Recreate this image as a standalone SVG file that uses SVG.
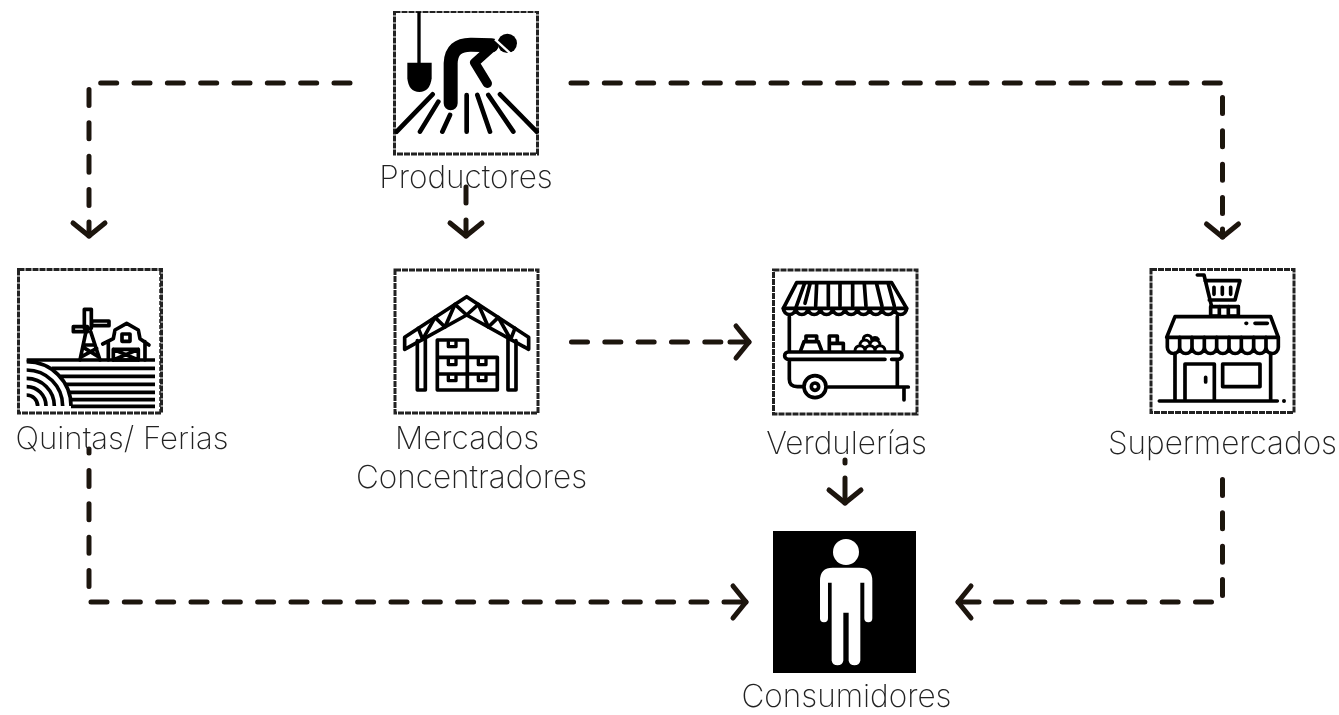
<svg xmlns="http://www.w3.org/2000/svg" width="1339" height="715" viewBox="0 0 1339 715">
<style>
text{font-family:"Inter","Liberation Sans",sans-serif;font-weight:200;font-size:31.500px;fill:#222;text-anchor:middle}
.box{fill:#fff;stroke:#222;stroke-width:3;stroke-dasharray:6 1}
.ic{fill:none;stroke:#000;stroke-width:11;stroke-linecap:round;stroke-linejoin:round}
.f{fill:#000;stroke:none}
.w{fill:#fff;stroke:none}
.conn path{fill:none;stroke:#1e1210;stroke-width:5;stroke-linecap:round;stroke-linejoin:round}
.conn .dash{stroke-dasharray:16 17.330}
.conn .head{marker-end:url(#chev)}
</style>
<defs>
<filter id="soft" x="0" y="0" width="100%" height="100%"><feGaussianBlur stdDeviation="0.6"/></filter>
<marker id="chev" markerUnits="userSpaceOnUse" markerWidth="40" markerHeight="50" refX="20" refY="25" viewBox="0 0 40 50" orient="auto">
<path d="M7 9L20 25L7 41" fill="none" stroke="#1e1210" stroke-width="5" stroke-linecap="round" stroke-linejoin="round"/>
</marker>
</defs>
<rect width="1339" height="715" fill="#fff"/>
<g filter="url(#soft)">
<g id="connectors" class="conn">
<path class="dash" d="M350 83H100M89 89.500V206"/>
<path class="head" d="M89 222V236"/>
<path d="M466 187V203"/>
<path class="head" d="M466 220V236"/>
<path class="dash" d="M571 83H1221M1222.500 97.500V214"/>
<path class="head" d="M1222.500 229V237"/>
<path class="dash" d="M571.500 342H721"/>
<path class="head" d="M730 342H749"/>
<path d="M89 449V453"/>
<path class="dash" d="M89 470.500V590M91 602H708"/>
<path class="head" d="M724 602H746"/>
<path d="M845 460V463"/>
<path class="head" d="M845 478V503"/>
<path class="dash" d="M1222.500 479.500V598M1211.500 602H995"/>
<path class="head" d="M979 602H958"/>
</g>
<g id="productores">
<rect class="box" x="394.500" y="11.500" width="143" height="142.500"/>
<g transform="translate(380 0) scale(.3333)">
<path class="ic" style="stroke-width:10;stroke-linecap:butt" d="M117 36V190"/>
<path class="f" d="M82 188H155V235Q150 276 118 276Q86 276 82 235Z"/>
<path class="ic" style="stroke-width:42" d="M212 310V190Q214 132 275 134L335 136"/>
<path class="ic" style="stroke-width:28" d="M340 138L284 188L322 250"/>
<circle class="f" cx="382" cy="130" r="29"/>
<path d="M345 118L404 172" stroke="#fff" stroke-width="7" fill="none"/>
<path class="ic" style="stroke-width:14" d="M50 395L158 283M120 395L175 305M187 395L210 345M260 395V285M330 395L292 285M400 395L325 285M470 395L360 283"/>
</g>
<text x="466" y="188">Productores</text>
</g>
<g id="quintas">
<rect class="box" x="18.500" y="269.500" width="143" height="143.500"/>
<path d="M160 271V412" stroke="#222" stroke-width="1.500" stroke-dasharray="4 2"/>
<g transform="translate(0 260) scale(.3333)">
<path class="ic" style="stroke-linecap:butt" d="M80 300H465M155 325H465M181 349H465M198 373H465M207 397H465M211 419H465M213 439H465"/>
<path class="ic" style="stroke-linecap:butt" d="M80 305A133 133 0 0 1 213 438M80 330A108 108 0 0 1 188 438M80 355A83 83 0 0 1 163 438M80 380A58 58 0 0 1 138 438M80 405A33 33 0 0 1 113 438"/>
<path class="ic" d="M253 148H274V205H253ZM220 200H262V215H220ZM275 183H327V197H275Z"/>
<path class="ic" d="M258 215L240 300M272 215L300 300M252 255L285 255M245 290L290 265M295 290L255 265"/>
<path class="ic" d="M308 252L340 236L345 210L380 190L415 210L420 236L447 255M325 245V300M435 245V300M340 268H415V300H340ZM340 268L415 300M415 268L340 300"/>
<rect class="ic" x="366" y="222" width="24" height="22"/>
</g>
<text x="122" y="449" style="font-size:31.200px">Quintas/ Ferias</text>
</g>
<g id="mercados">
<rect class="box" x="395" y="270" width="143" height="143"/>
<g transform="translate(380 260) scale(.3333)">
<path class="ic" d="M74 232L260 110L446 232V268L260 165L74 268Z"/>
<path class="ic" d="M115 205L128 238L165 172L195 201L225 133L260 165L295 133L325 201L355 172L392 238L405 205"/>
<path class="ic" d="M112 242V390H136V228M384 228V390H408V242M172 240H262V390H172ZM172 292H352V390H262M172 342H352"/>
<path class="ic" style="stroke-width:10" d="M205 246V260H228V246M205 298V314H228V298M295 298V314H318V298M205 348V362H228V348M295 348V362H318V348"/>
</g>
<text x="467" y="449">Mercados</text>
<text x="471.500" y="488">Concentradores</text>
</g>
<g id="verdulerias">
<rect class="box" x="773.500" y="270" width="143.500" height="144"/>
<g transform="translate(760 260) scale(.3333)">
<path class="ic" d="M70 145L110 68H395L440 145"/>
<path class="ic" d="M70 145A18 18 0 0 0 107 145A18 18 0 0 0 144 145A18 18 0 0 0 181 145A18 18 0 0 0 218 145A18 18 0 0 0 255 145A18 18 0 0 0 292 145A18 18 0 0 0 329 145A18 18 0 0 0 366 145A18 18 0 0 0 403 145A18 18 0 0 0 440 145Z"/>
<path class="ic" d="M133 72L107 145M135 130L150 72M170 72L167 138M205 72V138M240 72V138M278 72V138M313 72L318 138M350 72L366 138M385 72L403 138"/>
<path class="ic" d="M88 170V275M412 170V275M85 276H415A9 9 0 0 1 415 298H395M375 298H85A9 9 0 0 1 85 276M88 298V358Q88 380 112 380H128M205 381H445M412 298V381M432 381V420"/>
<circle class="ic" cx="165" cy="380" r="33"/>
<circle class="ic" cx="165" cy="380" r="11"/>
<path class="ic" d="M122 272L132 245H175L185 272M138 245V228H170V245M208 272V228H232V250H250V272M208 250H232"/>
<path class="ic" style="stroke-width:9" d="M285 272A15 15 0 0 1 315 272A15 15 0 0 1 345 272A15 15 0 0 1 375 272M300 255A15 15 0 0 1 330 255A15 15 0 0 1 360 255M310 238A12 12 0 0 1 335 238A12 12 0 0 1 355 238"/>
</g>
<text x="846.500" y="454">Verdulerías</text>
</g>
<g id="supermercados">
<rect class="box" x="1151" y="269.500" width="143" height="143"/>
<g transform="translate(1140 260) scale(.3333)">
<path class="ic" d="M172 45H192L215 140H295M195 62H300L285 120H208"/>
<path class="ic" d="M222 82V103M247 82V103M272 82V103M212 140V168H238V140M265 140V168H295V140"/>
<path class="ic" d="M105 170H392L415 232H80Z"/>
<path class="ic" d="M82 232V262A18 18 0 0 0 119 262A18 18 0 0 0 156 262A18 18 0 0 0 193 262A18 18 0 0 0 230 262A18 18 0 0 0 267 262A18 18 0 0 0 304 262A18 18 0 0 0 341 262A18 18 0 0 0 378 262A18 18 0 0 0 415 262V232M119 232V262M156 232V262M193 232V262M230 232V262M267 232V262M304 232V262M341 232V262M378 232V262"/>
<path class="ic" d="M105 280V420M392 280V420M135 420V312H223V420M58 423H412M197 352V366M318 190H320M345 190H382"/>
<rect class="ic" x="248" y="312" width="112" height="68"/>
<circle class="f" cx="432" cy="423" r="6"/>
</g>
<text x="1222.500" y="454">Supermercados</text>
</g>
<g id="consumidores">
<rect x="773" y="531" width="143" height="142" fill="#000"/>
<g transform="translate(740 450) scale(.3333)">
<circle class="w" cx="318" cy="306" r="39"/>
<path class="w" d="M278 353H358Q397 353 397 392V505A12 12 0 0 1 373 505V398H361V632A18 18 0 0 1 326 632V488H310V632A18 18 0 0 1 275 632V398H264V505A12 12 0 0 1 240 505V392Q240 353 278 353Z"/>
</g>
<text x="846.500" y="707">Consumidores</text>
</g>
</g>
</svg>
